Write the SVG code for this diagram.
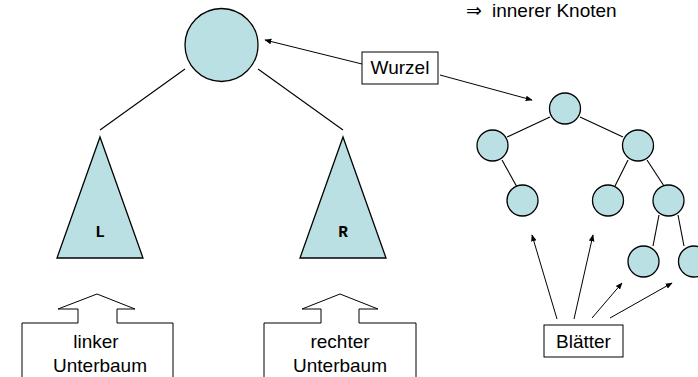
<svg xmlns="http://www.w3.org/2000/svg" width="698" height="377" viewBox="0 0 698 377">
<defs>
<style>
.n{fill:#bbe0e3;stroke:#000;stroke-width:1.3}
.e{stroke:#000;stroke-width:1.1;fill:none}
.a{stroke:#000;stroke-width:1;fill:none;marker-end:url(#ah)}
.b{fill:#fff;stroke:#000;stroke-width:1}
.t{font-family:"Liberation Sans",Arial,sans-serif;font-size:19px;fill:#000}
.m{font-family:"Liberation Mono","Courier New",monospace;font-size:16px;font-weight:bold;fill:#000}
</style>
<marker id="ah" viewBox="0 0 10 10" refX="9" refY="5" markerWidth="7" markerHeight="7" orient="auto" markerUnits="userSpaceOnUse">
<path d="M0,1 L10,5 L0,9 z" fill="#000"/>
</marker>
</defs>
<rect width="698" height="377" fill="#fff"/>
<g id="connectors">
<line class="e" x1="185" y1="69" x2="100" y2="130"/>
<line class="e" x1="258" y1="69" x2="343" y2="130"/>
<line class="e" x1="507" y1="137" x2="550" y2="117"/>
<line class="e" x1="580" y1="117" x2="623" y2="137"/>
<line class="e" x1="502" y1="160" x2="517" y2="187"/>
<line class="e" x1="628" y1="160" x2="615" y2="186"/>
<line class="e" x1="647" y1="160" x2="664" y2="186"/>
<line class="e" x1="659" y1="215" x2="653" y2="246"/>
<line class="e" x1="678" y1="215" x2="684" y2="246"/>
<line class="a" x1="362" y1="64" x2="265" y2="40"/>
<line class="a" x1="440" y1="75" x2="532" y2="100"/>
<line class="a" x1="557" y1="319" x2="532" y2="235"/>
<line class="a" x1="574" y1="319" x2="593" y2="235"/>
<line class="a" x1="592" y1="318" x2="622" y2="283"/>
<line class="a" x1="610" y1="318" x2="672" y2="283"/>
</g>
<g id="root"><circle class="n" cx="221.5" cy="45" r="36.5"/></g>
<g id="subtree-L"><polygon class="n" points="100,137 143,258 57,258"/><text class="m" x="100" y="237" text-anchor="middle">L</text></g>
<g id="subtree-R"><polygon class="n" points="343,137 386,258 300,258"/><text class="m" x="343" y="237" text-anchor="middle">R</text></g>
<g id="label-links"><path class="b" d="M22,377 L22,323 L78,323 L78,309 L58,309 L97,294 L135,309 L117,309 L117,323 L173,323 L173,377"/><text class="t" x="96" y="348" text-anchor="middle">linker</text><text class="t" x="100" y="372" text-anchor="middle">Unterbaum</text></g>
<g id="label-rechts"><path class="b" d="M264,377 L264,323 L321,323 L321,309 L302,309 L340,294 L378,309 L359,309 L359,323 L416,323 L416,377"/><text class="t" x="340" y="348" text-anchor="middle">rechter</text><text class="t" x="340" y="372" text-anchor="middle">Unterbaum</text></g>
<g id="note"><text class="t" x="466" y="17">⇒ <tspan x="492">innerer Knoten</tspan></text></g>
<g id="wurzel"><rect class="b" x="362" y="52" width="76" height="32"/><text class="t" x="400" y="74" text-anchor="middle">Wurzel</text></g>
<g id="blaetter"><rect class="b" x="544" y="325" width="79" height="32"/><text class="t" x="583.5" y="348" text-anchor="middle">Blätter</text></g>
<g id="t1"><circle class="n" cx="565" cy="108.5" r="15.5"/></g>
<g id="t2"><circle class="n" cx="492.5" cy="145.5" r="15.5"/></g>
<g id="t3"><circle class="n" cx="638" cy="145.5" r="15.5"/></g>
<g id="t4"><circle class="n" cx="522.5" cy="200.5" r="15.5"/></g>
<g id="t5"><circle class="n" cx="608" cy="200.5" r="15.5"/></g>
<g id="t6"><circle class="n" cx="668.5" cy="200.5" r="15.5"/></g>
<g id="t7"><circle class="n" cx="643.5" cy="261.5" r="15.5"/></g>
<g id="t8"><circle class="n" cx="694" cy="261.5" r="15.5"/></g>
</svg>
